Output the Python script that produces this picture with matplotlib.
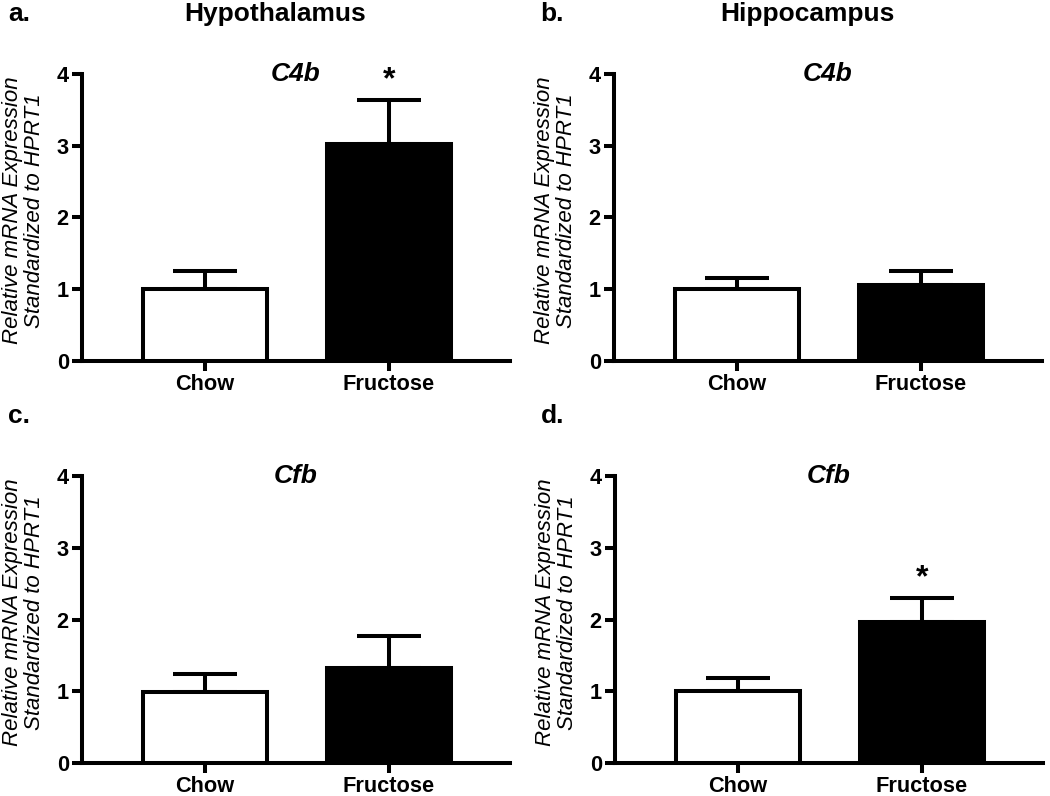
import matplotlib
matplotlib.use("Agg")
import matplotlib.pyplot as plt

plt.rcParams['font.family'] = ['Liberation Sans', 'DejaVu Sans']

# dados
grupos = ["Chow", "Fructose"]
cores = ["white", "black"]
letras = ["a.", "b.", "c.", "d."]
regioes = ["Hypothalamus", "Hippocampus", "", ""]
genes = ["C4b", "C4b", "Cfb", "Cfb"]
medias = [[1.00, 3.02], [1.00, 1.06], [0.99, 1.33], [1.00, 1.96]]
erros = [[0.25, 0.62], [0.16, 0.19], [0.25, 0.44], [0.18, 0.34]]
signif = [[False, True], [False, False], [False, False], [False, True]]
yticks = [0, 1, 2, 3, 4]
ylabel = "Relative mRNA Expression\nStandardized to HPRT1"

W, H = 1050, 796
fig = plt.figure(figsize=(W / 100, H / 100), dpi=100)

# posicoes dos paineis em pixels (esquerda, topo do eixo y=4)
pos = [(82, 74), (614, 74), (82, 476), (615, 476)]
larg, alt = 428, 287
lw = 2.9

for i in range(4):
    x0, y0 = pos[i]
    ax = fig.add_axes([x0 / W, 1 - (y0 + alt) / H, larg / W, alt / H])
    x = [0, 1]
    ax.bar(x, medias[i], width=0.674, color=cores, edgecolor="black",
           linewidth=lw, zorder=3)
    ax.errorbar(x, medias[i], yerr=[[0, 0], erros[i]], fmt="none",
                ecolor="black", elinewidth=lw, capsize=23, capthick=lw, zorder=2)
    for j in range(2):
        if signif[i][j]:
            ax.text(x[j], medias[i][j] + erros[i][j] + 0.27, "*", ha="center",
                    va="center", fontsize=23, fontweight="bold")
    ax.set_xlim(-0.668, 1.658)
    ax.set_ylim(0, 4)
    ax.set_yticks(yticks)
    ax.set_xticks(x)
    ax.set_xticklabels(grupos)
    for s in ["top", "right"]:
        ax.spines[s].set_visible(False)
    for s in ["left", "bottom"]:
        ax.spines[s].set_linewidth(lw)
    ax.tick_params(width=lw, length=7.5, labelsize=15.7, pad=2)
    for t in ax.get_xticklabels() + ax.get_yticklabels():
        t.set_fontweight("bold")
    ax.set_ylabel(ylabel, fontsize=16, style="italic", linespacing=1.1)
    ax.yaxis.set_label_coords(-0.086, 0.525)
    ax.text(0.5, 1.0, genes[i], transform=ax.transAxes, ha="center", va="center",
            fontsize=19, fontweight="bold", style="italic")

    # letra e titulo do painel
    fig.text((x0 - 74) / W, 1 - (y0 - 60) / H, letras[i], ha="left", va="center",
             fontsize=19, fontweight="bold")
    if regioes[i]:
        fig.text((x0 + 193) / W, 1 - (y0 - 60) / H, regioes[i], ha="center",
                 va="center", fontsize=19, fontweight="bold")

fig.savefig("out.png", dpi=100)
